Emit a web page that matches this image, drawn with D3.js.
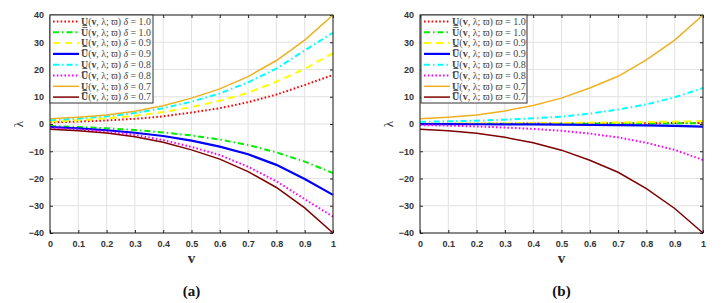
<!DOCTYPE html>
<html>
<head>
<meta charset="utf-8">
<script src="https://cdn.jsdelivr.net/npm/d3@7"></script>
<style>
  body { margin: 0; background: #fff; }
  svg { display: block; }
</style>
</head>
<body>
<svg id="chart" width="728" height="303"></svg>
<script>
// sample points along v
var vValues = [0, 0.1, 0.2, 0.3, 0.4, 0.5, 0.6, 0.7, 0.8, 0.9, 1];
var xTicks = [0, 0.1, 0.2, 0.3, 0.4, 0.5, 0.6, 0.7, 0.8, 0.9, 1];
var yTicks = [-40, -30, -20, -10, 0, 10, 20, 30, 40];

// panel (a): varying delta
var aLower10 = [0.6, 0.9, 1.3, 1.9, 2.8, 4.2, 5.8, 8.0, 10.8, 14.3, 18];
var aUpper10 = [-0.7, -1.1, -1.6, -2.2, -3.1, -4.2, -5.7, -7.7, -10.4, -13.8, -18];
var aLower09 = [0.9, 1.4, 2.1, 3.0, 4.4, 6.2, 8.5, 11.5, 15.5, 20.2, 26];
var aUpper09 = [-1.1, -1.6, -2.3, -3.2, -4.4, -6.1, -8.3, -11.1, -15, -20.2, -26];
var aLower08 = [1.4, 2.0, 2.8, 4.0, 5.8, 8.2, 11.2, 15.3, 20.3, 27, 33.5];
var aUpper08 = [-1.5, -2.0, -2.8, -4.0, -5.9, -8.4, -11.4, -15.7, -21, -27.6, -34];
var aLower07 = [1.9, 2.5, 3.3, 4.7, 6.7, 9.5, 12.9, 17.4, 23.3, 30.8, 40];
var aUpper07 = [-1.9, -2.5, -3.3, -4.7, -6.7, -9.5, -12.9, -17.5, -23.3, -30.8, -40];

// panel (b): varying varpi
var bLower10 = [0.05, 0.07, 0.1, 0.12, 0.15, 0.18, 0.22, 0.26, 0.3, 0.36, 0.42];
var bUpper10 = [0.0, 0.02, 0.04, 0.06, 0.08, 0.1, 0.13, 0.16, 0.2, 0.25, 0.3];
var bLower09 = [0.1, 0.13, 0.17, 0.22, 0.28, 0.35, 0.44, 0.55, 0.7, 0.88, 1.1];
var bUpper09 = [-0.05, -0.07, -0.1, -0.13, -0.17, -0.22, -0.3, -0.4, -0.52, -0.7, -0.95];
var bLower08 = [0.8, 1.0, 1.2, 1.6, 2.1, 2.7, 3.8, 5.3, 7.2, 9.8, 13.2];
var bUpper08 = [-0.4, -0.6, -0.9, -1.3, -1.8, -2.5, -3.5, -4.9, -6.9, -9.5, -13.2];
var bLower07 = [1.9, 2.5, 3.3, 4.8, 6.8, 9.5, 13.2, 17.5, 23.5, 30.8, 40];
var bUpper07 = [-1.9, -2.5, -3.4, -4.9, -6.9, -9.6, -13.3, -17.7, -23.7, -31, -40];

var paramValues = ["1.0", "1.0", "0.9", "0.9", "0.8", "0.8", "0.7", "0.7"];
var boundKinds = ["lower", "upper", "lower", "upper", "lower", "upper", "lower", "upper"];

// MATLAB-ish line styles, in legend order
var styles = [
  { color: "#ff0000", width: 2, dash: "1.6,2.2" },
  { color: "#00ee00", width: 2, dash: "6,3,1.5,3" },
  { color: "#ffff00", width: 2, dash: "7,5" },
  { color: "#0000ff", width: 2.2, dash: null },
  { color: "#00ffff", width: 2, dash: "6,3,1.5,3" },
  { color: "#ff00ff", width: 2, dash: "1.6,2.2" },
  { color: "#edb120", width: 1.5, dash: null },
  { color: "#7e0000", width: 1.5, dash: null }
];

var panels = [
  { left: 50, right: 333, symbol: "\u03B4", caption: "(a)",
    series: [aLower10, aUpper10, aLower09, aUpper09, aLower08, aUpper08, aLower07, aUpper07],
    legend: { x: 50, w: 103, textW: 70 } },
  { left: 420, right: 703, symbol: "\u03D6", caption: "(b)",
    series: [bLower10, bUpper10, bLower09, bUpper09, bLower08, bUpper08, bLower07, bUpper07],
    legend: { x: 421, w: 106, textW: 74 } }
];

var plotTop = 15, plotBottom = 233;
var svg = d3.select("#chart");
var tickFont = "Liberation Sans, Arial, sans-serif";
var serif = "Liberation Serif, DejaVu Serif, serif";

panels.forEach(function (p) {
  var x = d3.scaleLinear().domain([0, 1]).range([p.left, p.right]);
  var y = d3.scaleLinear().domain([-40, 40]).range([plotBottom, plotTop]);
  var g = svg.append("g");

  // grid
  g.append("g").selectAll("line")
    .data(xTicks).enter().append("line")
    .attr("x1", d => x(d)).attr("x2", d => x(d))
    .attr("y1", plotTop).attr("y2", plotBottom)
    .attr("stroke", "#e2e2e2").attr("stroke-width", 1);
  g.append("g").selectAll("line")
    .data(yTicks).enter().append("line")
    .attr("y1", d => y(d)).attr("y2", d => y(d))
    .attr("x1", p.left).attr("x2", p.right)
    .attr("stroke", "#e2e2e2").attr("stroke-width", 1);

  // axes with inward ticks
  var axB = g.append("g").attr("transform", "translate(0," + plotBottom + ")")
    .call(d3.axisBottom(x).tickValues(xTicks).tickSizeInner(-3).tickSizeOuter(0)
      .tickPadding(8).tickFormat(d => d3.format("")(d)));
  var axL = g.append("g").attr("transform", "translate(" + p.left + ",0)")
    .call(d3.axisLeft(y).tickValues(yTicks).tickSizeInner(-3).tickSizeOuter(0).tickPadding(6));
  g.append("g").attr("transform", "translate(0," + plotTop + ")")
    .call(d3.axisTop(x).tickValues(xTicks).tickSizeInner(-3).tickSizeOuter(0).tickFormat(""));
  g.append("g").attr("transform", "translate(" + p.right + ",0)")
    .call(d3.axisRight(y).tickValues(yTicks).tickSizeInner(-3).tickSizeOuter(0).tickFormat(""));
  g.selectAll(".domain").remove();
  g.selectAll(".tick line").attr("stroke", "#222");
  [axB, axL].forEach(function (a) {
    a.selectAll("text").attr("font-family", tickFont).attr("font-size", 9)
      .attr("font-weight", "bold").attr("fill", "#333");
  });

  // curves
  var line = d3.line().x((d, i) => x(vValues[i])).y(d => y(d));
  p.series.forEach(function (s, k) {
    var st = styles[k];
    g.append("path").datum(s)
      .attr("d", line)
      .attr("fill", "none")
      .attr("stroke", st.color)
      .attr("stroke-width", st.width)
      .attr("stroke-dasharray", st.dash);
  });

  // frame
  g.append("rect")
    .attr("x", p.left).attr("y", plotTop)
    .attr("width", p.right - p.left).attr("height", plotBottom - plotTop)
    .attr("fill", "none").attr("stroke", "#222").attr("stroke-width", 1);

  // legend
  var lg = g.append("g");
  lg.append("rect")
    .attr("x", p.legend.x).attr("y", plotTop)
    .attr("width", p.legend.w).attr("height", 88)
    .attr("fill", "#fff").attr("stroke", "#333").attr("stroke-width", 1);
  var rowH = 10.8;
  paramValues.forEach(function (val, k) {
    var cy = plotTop + 6.5 + k * rowH;
    var st = styles[k];
    lg.append("line")
      .attr("x1", p.legend.x + 3).attr("x2", p.legend.x + 29)
      .attr("y1", cy).attr("y2", cy)
      .attr("stroke", st.color).attr("stroke-width", st.width)
      .attr("stroke-dasharray", st.dash);
    var t = lg.append("text")
      .attr("x", p.legend.x + 31).attr("y", cy + 3.2)
      .attr("font-family", serif).attr("font-size", 9).attr("fill", "#444");
    t.append("tspan").attr("font-weight", "bold")
      .text(boundKinds[k] === "lower" ? "U\u0332" : "U\u0305");
    t.append("tspan").text("(");
    t.append("tspan").attr("font-weight", "bold").text("v");
    t.append("tspan").text(", \u03BB; \u03D6)  ");
    t.append("tspan").attr("font-style", "italic").text(p.symbol);
    t.append("tspan").text(" = " + val);
    // fit the label to the width seen in the reference
    var w = t.node().getComputedTextLength();
    if (w > 0) t.attr("font-size", 9 * p.legend.textW / w);
  });

  // axis labels
  g.append("text")
    .attr("x", (p.left + p.right) / 2).attr("y", 263)
    .attr("text-anchor", "middle")
    .attr("font-family", serif).attr("font-weight", "bold").attr("font-size", 15)
    .attr("fill", "#333").text("v");
  g.append("text")
    .attr("transform", "translate(" + (p.left - 27) + "," + y(0) + ") rotate(-90)")
    .attr("text-anchor", "middle")
    .attr("font-family", serif).attr("font-size", 13)
    .attr("fill", "#333").text("\u03BB");

  // caption
  g.append("text")
    .attr("x", (p.left + p.right) / 2).attr("y", 296)
    .attr("text-anchor", "middle")
    .attr("font-family", "Liberation Serif, serif").attr("font-weight", "bold")
    .attr("font-size", 15).attr("fill", "#111").text(p.caption);
});
</script>
</body>
</html>
